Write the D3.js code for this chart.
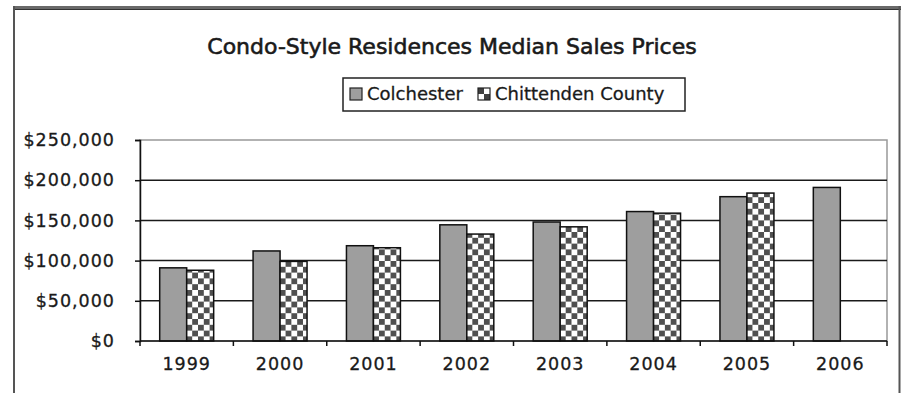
<!DOCTYPE html>
<html>
<head>
<meta charset="utf-8">
<script src="https://cdn.jsdelivr.net/npm/d3@7"></script>
<style>
  html, body { margin: 0; padding: 0; background: #fff; }
  svg { display: block; }
  text { font-family: "DejaVu Sans", Verdana, sans-serif; fill: #1a1a1a; }
</style>
</head>
<body>
<svg id="chart" width="903" height="393"></svg>
<script>
// Median sales prices of condo-style residences
const years = ["1999", "2000", "2001", "2002", "2003", "2004", "2005", "2006"];
const seriesNames = ["Colchester", "Chittenden County"];
const colchester = [91000, 112000, 118500, 144500, 148000, 161000, 179500, 191000];
const chittenden = [88000, 99000, 116000, 133000, 142000, 159000, 184000, null];
const yTicks = [0, 50000, 100000, 150000, 200000, 250000];
const chartTitle = "Condo-Style Residences Median Sales Prices";

const seriesValues = [colchester, chittenden];
const rows = years.map((yr, i) => ({
  year: yr,
  values: seriesNames.map((s, j) => ({ series: s, value: seriesValues[j][i] }))
}));

const svg = d3.select("#chart");
const plot = { left: 140, right: 887, top: 140, bottom: 341 };

// Patterns
const defs = svg.append("defs");
const checker = defs.append("pattern")
  .attr("id", "checker").attr("patternUnits", "userSpaceOnUse")
  .attr("width", 11.6).attr("height", 11.6);
checker.append("rect").attr("width", 11.6).attr("height", 11.6).attr("fill", "#fff");
checker.append("rect").attr("x", 0).attr("y", 0).attr("width", 5.8).attr("height", 5.8).attr("fill", "#505050");
checker.append("rect").attr("x", 5.8).attr("y", 5.8).attr("width", 5.8).attr("height", 5.8).attr("fill", "#505050");

const checkerSmall = defs.append("pattern")
  .attr("id", "checkerSmall").attr("patternUnits", "objectBoundingBox")
  .attr("width", 1).attr("height", 1);
checkerSmall.append("rect").attr("width", 12).attr("height", 12).attr("fill", "#fff");
checkerSmall.append("rect").attr("x", 0).attr("y", 0).attr("width", 6).attr("height", 6).attr("fill", "#404040");
checkerSmall.append("rect").attr("x", 6).attr("y", 6).attr("width", 6).attr("height", 6).attr("fill", "#404040");

const fills = d3.scaleOrdinal().domain(seriesNames).range(["#9e9e9e", "url(#checker)"]);
const swatchFills = d3.scaleOrdinal().domain(seriesNames).range(["#9e9e9e", "url(#checkerSmall)"]);

// Outer frame
svg.append("rect").attr("x", 13).attr("y", 6).attr("width", 888).attr("height", 4).attr("fill", "#6a6a6a");
svg.append("line").attr("x1", 13).attr("x2", 901).attr("y1", 9.5).attr("y2", 9.5).attr("stroke", "#333").attr("stroke-width", 1);
svg.append("line").attr("x1", 14).attr("x2", 14).attr("y1", 6).attr("y2", 393).attr("stroke", "#555").attr("stroke-width", 2);
svg.append("line").attr("x1", 899.5).attr("x2", 899.5).attr("y1", 6).attr("y2", 393).attr("stroke", "#555").attr("stroke-width", 2);

// Scales
const x0 = d3.scaleBand().domain(years).range([plot.left, plot.right]).paddingInner(0).paddingOuter(0);
const x1 = d3.scaleBand().domain(seriesNames).range([0, x0.bandwidth()]).paddingInner(0).paddingOuter(0.73);
const y = d3.scaleLinear().domain([0, 250000]).range([plot.bottom, plot.top]);

// Plot area border
svg.append("rect")
  .attr("x", plot.left).attr("y", plot.top)
  .attr("width", plot.right - plot.left).attr("height", plot.bottom - plot.top)
  .attr("fill", "none").attr("stroke", "#999").attr("stroke-width", 1.5);

// Gridlines
svg.append("g").selectAll("line")
  .data(yTicks.filter(d => d > 0 && d < 250000))
  .join("line")
  .attr("x1", plot.left).attr("x2", plot.right)
  .attr("y1", d => y(d)).attr("y2", d => y(d))
  .attr("stroke", "#1a1a1a").attr("stroke-width", 1.5);

// Bars
const groups = svg.append("g").selectAll("g")
  .data(rows).join("g")
  .attr("transform", d => `translate(${x0(d.year)},0)`);
groups.selectAll("rect")
  .data(d => d.values.filter(v => v.value != null))
  .join("rect")
  .attr("x", d => x1(d.series))
  .attr("y", d => y(d.value))
  .attr("width", x1.bandwidth())
  .attr("height", d => y(0) - y(d.value))
  .attr("fill", d => fills(d.series))
  .attr("stroke", "#111").attr("stroke-width", 1.5);

// Y axis
const yAxis = svg.append("g")
  .attr("transform", `translate(${plot.left},0)`)
  .call(d3.axisLeft(y).tickValues(yTicks).tickFormat(d3.format("$,")).tickSize(5).tickPadding(20));
yAxis.select(".domain").attr("stroke", "#111").attr("stroke-width", 1.5);
yAxis.selectAll(".tick line").attr("stroke", "#111").attr("stroke-width", 1.5);
yAxis.selectAll(".tick text")
  .style("font-family", '"DejaVu Sans", Verdana, sans-serif')
  .style("font-size", "17.5px").style("letter-spacing", "1px")
  .attr("fill", "#1a1a1a").attr("stroke", "#1a1a1a").attr("stroke-width", 0.3);

// X axis: ticks at category boundaries, labels centred in each band
const xAxis = svg.append("g")
  .attr("transform", `translate(0,${plot.bottom})`);
xAxis.append("line")
  .attr("x1", plot.left).attr("x2", plot.right)
  .attr("stroke", "#111").attr("stroke-width", 1.5);
xAxis.selectAll(".bt")
  .data(years.map(d => x0(d)).concat([x0(years[years.length - 1]) + x0.bandwidth()]))
  .join("line").attr("class", "bt")
  .attr("x1", d => d).attr("x2", d => d)
  .attr("y1", 0).attr("y2", 5)
  .attr("stroke", "#111").attr("stroke-width", 1.5);
xAxis.selectAll("text")
  .data(years).join("text")
  .attr("x", d => x0(d) + x0.bandwidth() / 2)
  .attr("y", 29)
  .attr("text-anchor", "middle")
  .style("font-size", "17.5px").style("letter-spacing", "1px")
  .attr("stroke", "#1a1a1a").attr("stroke-width", 0.3)
  .text(d => d);

// Title
svg.append("text")
  .attr("x", 452).attr("y", 54)
  .attr("text-anchor", "middle")
  .style("font-family", '"DejaVu Sans", sans-serif')
  .style("font-size", "22px")
  .attr("stroke", "#1a1a1a").attr("stroke-width", 0.6)
  .text(chartTitle);

// Legend
const legend = svg.append("g");
legend.append("rect")
  .attr("x", 343).attr("y", 78).attr("width", 342).attr("height", 33)
  .attr("fill", "#fff").attr("stroke", "#222").attr("stroke-width", 1.5);
const legendX = [350, 478];
const items = legend.selectAll(".item").data(seriesNames).join("g")
  .attr("class", "item")
  .attr("transform", (d, i) => `translate(${legendX[i]},88)`);
items.append("rect")
  .attr("width", 12).attr("height", 12)
  .attr("fill", d => swatchFills(d))
  .attr("stroke", "#222").attr("stroke-width", 1.2);
items.append("text")
  .attr("x", 17).attr("y", 12)
  .style("font-size", "18px")
  .attr("stroke", "#1a1a1a").attr("stroke-width", 0.3)
  .text(d => d);
</script>
</body>
</html>
